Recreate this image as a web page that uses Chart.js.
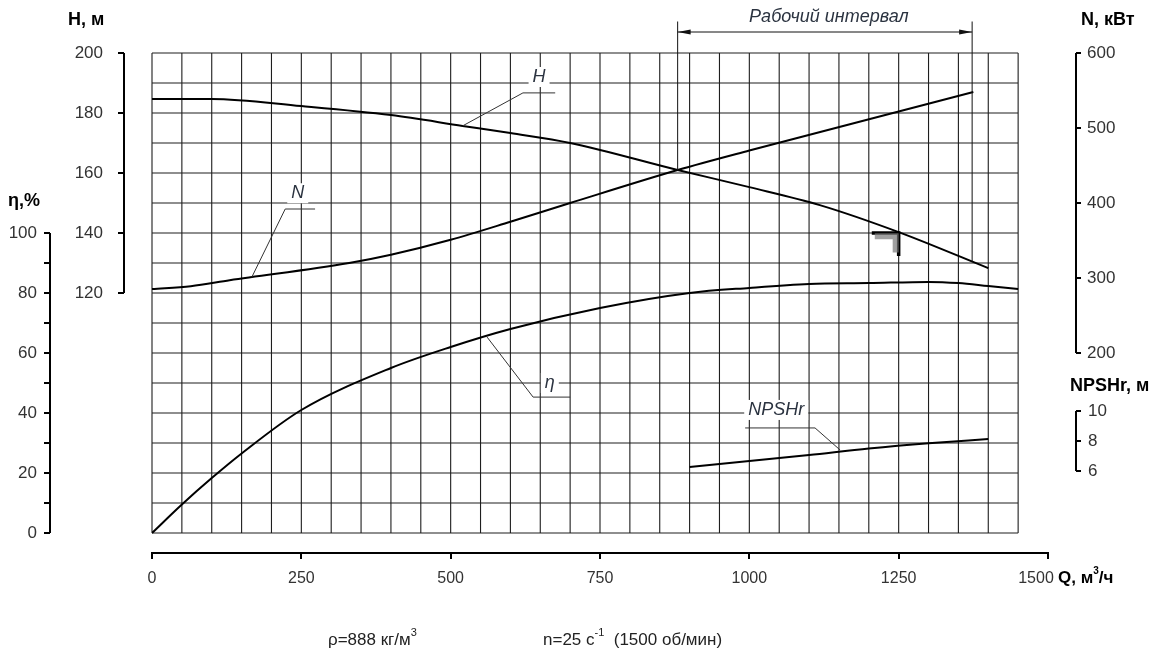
<!DOCTYPE html>
<html><head><meta charset="utf-8">
<script src="https://cdn.jsdelivr.net/npm/chart.js@4.4.1/dist/chart.umd.min.js"></script>
<style>html,body{margin:0;padding:0;background:#fff;}#wrap{width:1152px;height:656px;position:relative}</style>
</head><body><div id="wrap"><canvas id="c" width="1152" height="656"></canvas></div>
<script>
// ---- tick labels ----
const qTicks = [0, 250, 500, 750, 1000, 1250, 1500];
const hTicks = [120, 140, 160, 180, 200];
const etaTicks = [0, 10, 20, 30, 40, 50, 60, 70, 80, 90, 100];
const nTicks = [200, 300, 400, 500, 600];
const npshTicks = [6, 8, 10];

// ---- series ----
const qH   = [0, 100, 250, 400, 520, 600, 700, 880, 1000, 1118, 1250, 1400];
const hVals = [184.7, 184.7, 182.3, 179.3, 175.7, 173.3, 170, 161, 155.3, 149.3, 140.3, 128.3];

const qN   = [0, 65, 130, 330, 400, 500, 600, 700, 880, 1000, 1250, 1375];
const nVals = [285.3, 289, 297, 320, 331, 351, 375, 400, 444, 470, 522, 548];

const qEta   = [0, 50, 100, 150, 250, 400, 500, 600, 750, 900, 1000, 1100, 1200, 1300, 1350, 1400, 1450];
const etaVals = [0, 9.5, 18.3, 26.5, 41, 55, 62, 68, 75, 80, 81.7, 83, 83.3, 83.7, 83.3, 82.3, 81.3];

const qNpsh   = [900, 1000, 1100, 1200, 1300, 1400];
const npshVals = [6.27, 6.67, 7.07, 7.5, 7.85, 8.13];

// rated point marker (Q, H)
const markQ = [1205, 1250, 1250];
const markH = [140, 140, 132.3];
const shadeQ = [1210, 1245, 1245];
const shadeH = [138.9, 138.9, 133.5];

// working interval (Q)
const workFrom = 880, workTo = 1373;

const pts = (xs, ys) => xs.map((v, i) => ({x: v, y: ys[i]}));
const setTicks = arr => s => { s.ticks = arr.map(v => ({value: v})); };
const LBL = '#333';
const tickFont = {family: 'Liberation Sans, Arial, sans-serif', size: 17};

function spacer(pos, w) {
  return {type: 'linear', position: pos, weight: 0, display: true,
    ticks: {display: false}, grid: {display: false}, border: {display: false},
    afterFit: s => { s.width = w; }};
}
function yAxis(pos, weight, min, max, arr, w, pad, tl, cb) {
  return {type: 'linear', position: pos, weight, min, max,
    afterBuildTicks: setTicks(arr),
    afterFit: s => { s.width = w; },
    ticks: {autoSkip: false, padding: pad, color: LBL, font: tickFont, callback: cb || (v => String(v))},
    grid: {drawOnChartArea: false, drawTicks: true, tickLength: tl, color: '#000', lineWidth: 2},
    border: {display: false}};
}

function boxText(ctx, txt, px, py, font, color) {
  ctx.font = font;
  const w = ctx.measureText(txt).width;
  ctx.fillStyle = '#fff';
  ctx.fillRect(px - w / 2 - 4, py - 10, w + 8, 20);
  ctx.fillStyle = color;
  ctx.textAlign = 'center'; ctx.textBaseline = 'middle';
  ctx.fillText(txt, px, py);
}
function supText(ctx, parts, x, y) {
  let cx = x;
  ctx.textAlign = 'left'; ctx.textBaseline = 'middle';
  for (const p of parts) {
    ctx.font = p[2];
    ctx.fillText(p[0], cx, p[1] ? y - 7 : y);
    cx += ctx.measureText(p[0]).width;
  }
}

const decor = {
  id: 'decor',
  beforeDraw(chart) {
    const x = chart.scales.x;
    const items = x.getLabelItems(chart.chartArea);
    const last = items[items.length - 1];
    if (last && last.label === '1500') { last.options.translation[0] -= 12; }
  },
  beforeDatasetsDraw(chart) {
    const {ctx, scales: {x, y}} = chart;
    ctx.save();
    ctx.strokeStyle = '#1e1e1e'; ctx.lineWidth = 1.1;
    const yT = y.getPixelForValue(200), yB = y.getPixelForValue(40);
    const xL = x.getPixelForValue(0), xR = x.getPixelForValue(1450);
    ctx.beginPath();
    for (let q = 0; q <= 1450; q += 50) { const p = x.getPixelForValue(q); ctx.moveTo(p, yT); ctx.lineTo(p, yB); }
    for (let h = 40; h <= 200; h += 10) { const p = y.getPixelForValue(h); ctx.moveTo(xL, p); ctx.lineTo(xR, p); }
    ctx.stroke();
    ctx.restore();
  },
  afterDatasetsDraw(chart) {
    const {ctx, scales} = chart;
    const {x, y, yEta, yN, yNp} = scales;
    const X = v => x.getPixelForValue(v);
    ctx.save();
    ctx.strokeStyle = '#000'; ctx.lineWidth = 2;
    ctx.beginPath();
    ctx.moveTo(y.right, y.getPixelForValue(200)); ctx.lineTo(y.right, y.getPixelForValue(120));
    ctx.moveTo(yEta.right, yEta.getPixelForValue(100)); ctx.lineTo(yEta.right, yEta.getPixelForValue(0));
    ctx.moveTo(yN.left, yN.getPixelForValue(600)); ctx.lineTo(yN.left, yN.getPixelForValue(200));
    ctx.moveTo(yNp.left, yNp.getPixelForValue(10)); ctx.lineTo(yNp.left, yNp.getPixelForValue(6));
    ctx.stroke();

    const italic = 'italic 18px "Liberation Sans Narrow", "Liberation Sans", sans-serif';
    const lc = '#2b3340';
    ctx.strokeStyle = '#333'; ctx.lineWidth = 1;
    ctx.beginPath();
    ctx.moveTo(X(520), y.getPixelForValue(175.7)); ctx.lineTo(X(621), y.getPixelForValue(186.7)); ctx.lineTo(X(675), y.getPixelForValue(186.7));
    ctx.moveTo(X(167), yN.getPixelForValue(301)); ctx.lineTo(X(223), yN.getPixelForValue(392)); ctx.lineTo(X(273), yN.getPixelForValue(392));
    ctx.moveTo(X(561), yEta.getPixelForValue(65.3)); ctx.lineTo(X(638), yEta.getPixelForValue(45.3)); ctx.lineTo(X(700), yEta.getPixelForValue(45.3));
    ctx.moveTo(X(1152), yNp.getPixelForValue(7.4)); ctx.lineTo(X(1110), yNp.getPixelForValue(8.87)); ctx.lineTo(X(993), yNp.getPixelForValue(8.87));
    ctx.stroke();
    boxText(ctx, 'H', X(648), y.getPixelForValue(192), italic, lc);
    boxText(ctx, 'N', X(244), yN.getPixelForValue(413), italic, lc);
    boxText(ctx, 'η', X(666), yEta.getPixelForValue(50), italic, lc);
    boxText(ctx, 'NPSHr', X(1045), yNp.getPixelForValue(10.07), italic, lc);

    const xa = X(workFrom), xb = X(workTo);
    const yd = y.getPixelForValue(207), ye = y.getPixelForValue(210.5);
    ctx.strokeStyle = '#111'; ctx.lineWidth = 1;
    ctx.beginPath();
    ctx.moveTo(xa, ye); ctx.lineTo(xa, y.getPixelForValue(161));
    ctx.moveTo(xb, ye); ctx.lineTo(xb, y.getPixelForValue(130.5));
    ctx.moveTo(xa, yd); ctx.lineTo(xb, yd);
    ctx.stroke();
    ctx.fillStyle = '#111';
    ctx.beginPath();
    ctx.moveTo(xa, yd); ctx.lineTo(xa + 13, yd - 2.5); ctx.lineTo(xa + 13, yd + 2.5); ctx.closePath();
    ctx.moveTo(xb, yd); ctx.lineTo(xb - 13, yd - 2.5); ctx.lineTo(xb - 13, yd + 2.5); ctx.closePath();
    ctx.fill();
    ctx.font = italic; ctx.fillStyle = lc; ctx.textAlign = 'center'; ctx.textBaseline = 'middle';
    ctx.fillText('Рабочий интервал', (xa + xb) / 2 + 4, y.getPixelForValue(212));

    ctx.fillStyle = '#000';
    const bold = 'bold 18px "Liberation Sans", Arial, sans-serif';
    const boldSup = 'bold 10px "Liberation Sans", Arial, sans-serif';
    ctx.font = bold; ctx.textAlign = 'left'; ctx.textBaseline = 'middle';
    ctx.fillText('H, м', 68, 20);
    ctx.fillText('η,%', 8, 201);
    ctx.fillText('N, кВт', 1081, 20);
    ctx.fillText('NPSHr, м', 1070, 386);
    const boldQ = 'bold 17px "Liberation Sans", Arial, sans-serif';
    supText(ctx, [['Q, м', false, boldQ], ['3', true, boldSup], ['/ч', false, boldQ]], 1058, 578);

    ctx.fillStyle = '#222';
    const reg = '17px "Liberation Sans", Arial, sans-serif';
    const sup = '11px "Liberation Sans", Arial, sans-serif';
    supText(ctx, [['ρ=888 кг/м', false, reg], ['3', true, sup]], 328, 640);
    supText(ctx, [['n=25 с', false, reg], ['-1', true, sup], ['  (1500 об/мин)', false, reg]], 543, 640);
    ctx.restore();
  }
};

const line = (data, axis, w, color) => ({data, yAxisID: axis, borderColor: color || '#000', borderWidth: w || 2,
  pointRadius: 0, fill: false, cubicInterpolationMode: 'monotone', showLine: true});

const npshAxis = yAxis('right', 1, 10 - 142 / 15, 10 + 358 / 15, npshTicks, 0, 31, 5);
Object.assign(npshAxis.ticks, {mirror: true, crossAlign: 'far'});

new Chart(document.getElementById('c'), {
  type: 'line',
  data: {datasets: [
    line(pts(qH, hVals), 'y'),
    line(pts(qN, nVals), 'yN'),
    line(pts(qEta, etaVals), 'yEta'),
    line(pts(qNpsh, npshVals), 'yNp'),
    Object.assign(line(pts(shadeQ, shadeH), 'y', 6, 'rgba(120,120,120,0.7)'), {cubicInterpolationMode: 'default', tension: 0}),
    Object.assign(line(pts(markQ, markH), 'y', 3.5, '#000'), {cubicInterpolationMode: 'default', tension: 0})
  ]},
  options: {
    responsive: false, animation: false, events: [],
    layout: {padding: {top: 53, left: 0, right: 0, bottom: 0}},
    plugins: {legend: {display: false}, tooltip: {enabled: false}},
    scales: {
      x: {type: 'linear', position: 'bottom', min: 0, max: 1500,
        afterBuildTicks: setTicks(qTicks),
        afterFit: s => { s.height = 103; },
        ticks: {autoSkip: false, maxRotation: 0, padding: 10, color: LBL, callback: v => String(v),
          font: {family: '"Liberation Sans Narrow", "Liberation Sans", Arial, sans-serif', size: 16}},
        grid: {drawOnChartArea: false, drawTicks: true, tickLength: 6, color: '#000', lineWidth: 2},
        border: {display: true, color: '#000', width: 2}},
      yL: spacer('left', 28),
      y: yAxis('left', 1, 200 - 500 / 3, 200, hTicks, 74, 15, 6),
      yEta: yAxis('left', 2, -20 / 3, 160, etaTicks, 50, 7, 6, v => (v % 20 === 0 ? String(v) : '')),
      yR: spacer('right', 28),
      yNp: npshAxis,
      yN: yAxis('right', 2, 600 - 500 / 0.75, 600, nTicks, 76, 6, 5)
    }
  },
  plugins: [decor]
});
</script>
</body></html>
